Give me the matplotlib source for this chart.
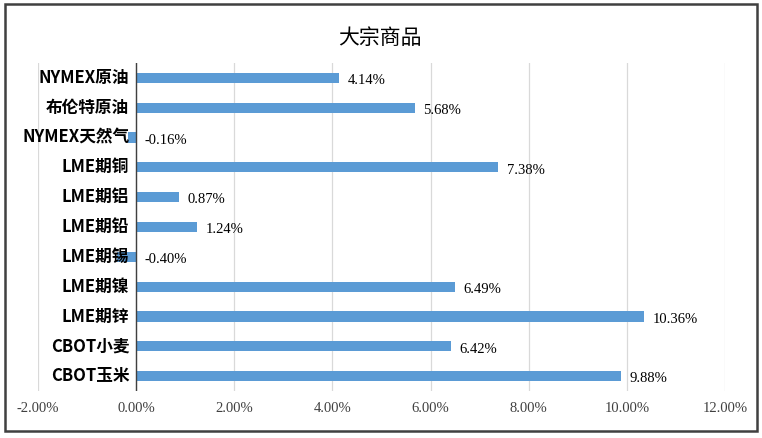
import numpy as np
import matplotlib.pyplot as plt
from matplotlib.patches import Rectangle
from matplotlib.ticker import FuncFormatter

plt.rcParams['font.family'] = ['Noto Sans CJK SC', 'DejaVu Sans']

categories = ['NYMEX原油', '布伦特原油', 'NYMEX天然气', 'LME期铜', 'LME期铝', 'LME期铅',
              'LME期锡', 'LME期镍', 'LME期锌', 'CBOT小麦', 'CBOT玉米']
values = [4.14, 5.68, -0.16, 7.38, 0.87, 1.24, -0.40, 6.49, 10.36, 6.42, 9.88]
xticks = [-2, 0, 2, 4, 6, 8, 10, 12]

serif = ['Liberation Serif', 'DejaVu Serif']

fig = plt.figure(figsize=(7.62, 4.38), dpi=100)
ax = fig.add_axes([0.0499, 0.1073, 0.9015, 0.7489])

y = np.arange(len(categories))
ax.barh(y, values, height=0.34, color='#5B9BD5', zorder=3)
ax.set_ylim(len(categories) - 0.5, -0.5)
ax.set_xlim(-2, 12)
ax.set_xticks(xticks)
ax.xaxis.set_major_formatter(FuncFormatter(lambda v, p: '%.2f%%' % v))
ax.tick_params(axis='x', length=0, pad=8, labelsize=10.5, colors='#404040')
for lab in ax.get_xticklabels():
    lab.set_family(serif)
ax.set_yticks([])
ax.grid(axis='x', color='#d9d9d9', linewidth=0.9, zorder=0)
for s in ax.spines.values():
    s.set_visible(False)
ax.axvline(0, color='#404040', linewidth=1.0, zorder=4)

# category labels sit next to the zero axis
for i, c in enumerate(categories):
    ax.annotate(c, (0, i), xytext=(-5, 0), textcoords='offset points',
                ha='right', va='center', fontsize=12, fontweight='bold',
                color='#000000', zorder=5)

for i, v in enumerate(values):
    ax.annotate('%.2f%%' % v, (max(v, 0), i), xytext=(6, -2),
                textcoords='offset points', ha='left', va='center',
                fontsize=10.5, family=serif, zorder=5)

fig.text(0.499, 0.913, '大宗商品', ha='center', va='center', fontsize=15, color='#000000')

fig.patches.append(Rectangle((0.007, 0.016), 0.986, 0.975, transform=fig.transFigure,
                             fill=False, edgecolor='#404040', linewidth=1.8))

fig.savefig('out.png', dpi=100)
